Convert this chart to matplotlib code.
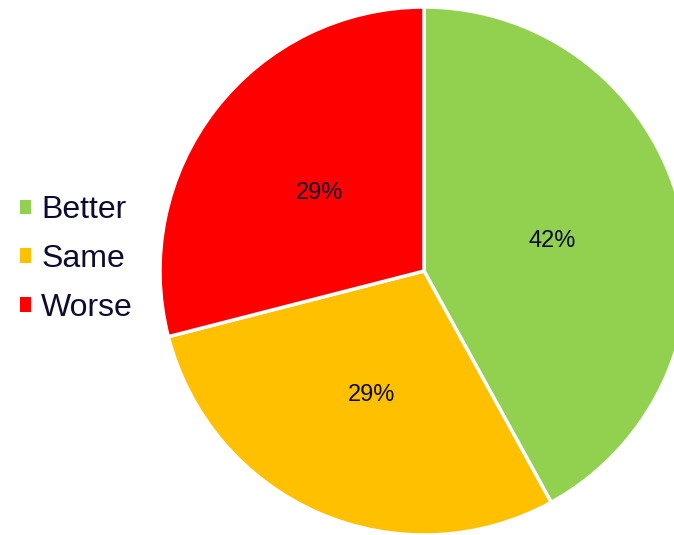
import matplotlib
matplotlib.use("Agg")
import matplotlib.pyplot as plt
from matplotlib.patches import Patch

plt.rcParams['font.family'] = ['Liberation Sans', 'DejaVu Sans']

categories = ["Better", "Same", "Worse"]
shares = [42, 29, 29]
colors = ["#92D050", "#FFC000", "#FF0000"]
text_color = "#0C0C30"

W, H = 674, 535
fig = plt.figure(figsize=(W / 100, H / 100), dpi=100)
ax = fig.add_axes([0, 0, 1, 1])

wedges, texts, autotexts = ax.pie(
    shares,
    colors=colors,
    startangle=90,
    counterclock=False,
    center=(424, H - 271),
    radius=264,
    autopct="%d%%",
    pctdistance=0.5,
    wedgeprops=dict(edgecolor="white", linewidth=2.5),
    textprops=dict(color=text_color, fontsize=17),
    frame=True,
)
# nudge percentage labels slightly downward
for t in autotexts:
    x, y = t.get_position()
    t.set_position((x, y - 3))

ax.set_xlim(0, W)
ax.set_ylim(0, H)
ax.set_aspect("equal")
ax.axis("off")

handles = [Patch(facecolor=c, edgecolor="none") for c in colors]
ax.legend(
    handles, categories,
    loc="center left",
    bbox_to_anchor=(20 / W, 1 - 259 / H),
    frameon=False,
    fontsize=23,
    labelcolor=text_color,
    handlelength=0.34,
    handleheight=0.34,
    handletextpad=0.32,
    labelspacing=0.58,
    borderaxespad=0.0,
    borderpad=0.0,
)

fig.savefig("out.png", dpi=100)
